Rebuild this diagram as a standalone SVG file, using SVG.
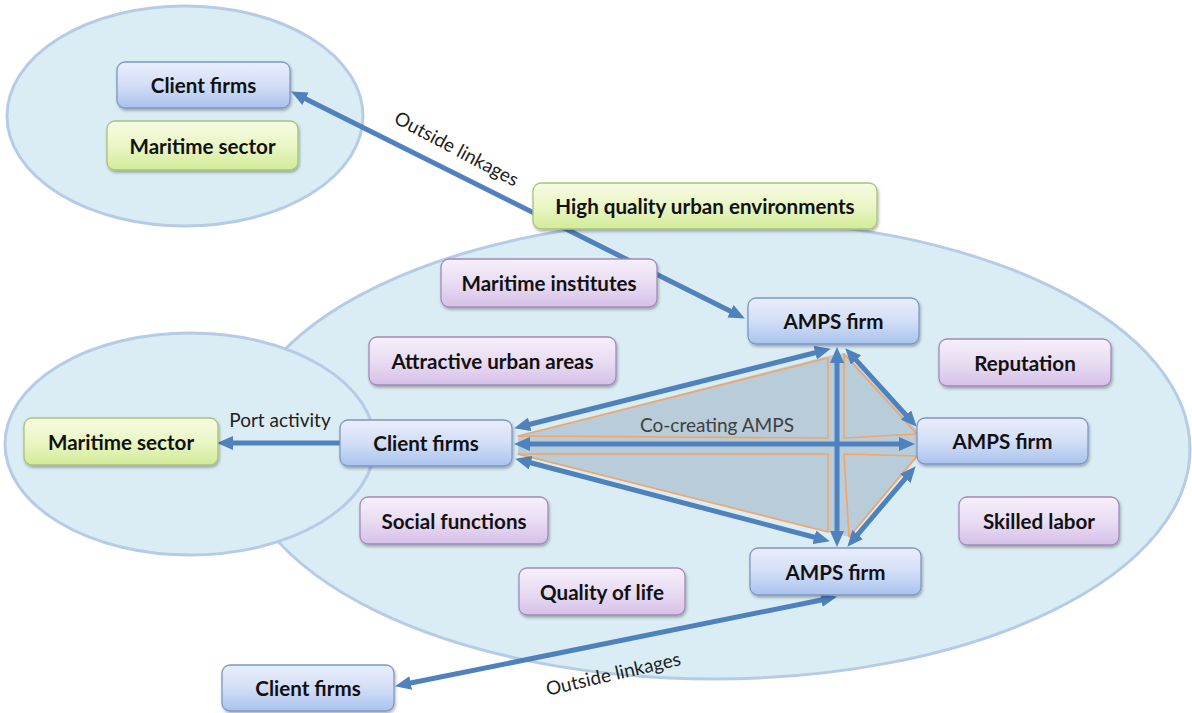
<svg xmlns="http://www.w3.org/2000/svg" width="1192" height="713" viewBox="0 0 1192 713">
  <defs>
    <style>
      .zone { fill: #dbedf4; stroke: #b5cbe6; stroke-width: 3; }
      .box { stroke-width: 1.3; filter: url(#shadow); }
      .blue { fill: url(#gBlue); stroke: #7e97c2; }
      .green { fill: url(#gGreen); stroke: #a8c27a; }
      .purple { fill: url(#gPurple); stroke: #9f8bb7; }
      .lbl { font-family: Lato, "Open Sans", "Liberation Sans", sans-serif; font-weight: bold; font-size: 20.6px; fill: #111; text-anchor: middle; dominant-baseline: central; }
      .note { font-family: Lato, "Open Sans", "Liberation Sans", sans-serif; font-size: 19px; fill: #1e1e1e; text-anchor: middle; dominant-baseline: central; }
      .link { fill: none; stroke: #4f81bd; stroke-width: 5; }
      .both { marker-start: url(#head); marker-end: url(#head); }
      .one { marker-end: url(#head); }
      .tri { fill: none; stroke: #f2a564; stroke-width: 1.6; stroke-linejoin: round; }
    </style>
    <linearGradient id="gBlue" x1="0" y1="0" x2="0" y2="1">
      <stop offset="0" stop-color="#e9eefb"/>
      <stop offset="0.5" stop-color="#d3def7"/>
      <stop offset="1" stop-color="#a9c3ee"/>
    </linearGradient>
    <linearGradient id="gGreen" x1="0" y1="0" x2="0" y2="1">
      <stop offset="0" stop-color="#f6fbe2"/>
      <stop offset="0.5" stop-color="#eaf6c6"/>
      <stop offset="1" stop-color="#d2eb98"/>
    </linearGradient>
    <linearGradient id="gPurple" x1="0" y1="0" x2="0" y2="1">
      <stop offset="0" stop-color="#f6f0fb"/>
      <stop offset="0.5" stop-color="#e9dcf3"/>
      <stop offset="1" stop-color="#d6c0e8"/>
    </linearGradient>
    <filter id="shadow" x="-10%" y="-20%" width="120%" height="150%">
      <feDropShadow dx="1" dy="2" stdDeviation="1.5" flood-color="#000" flood-opacity="0.3"/>
    </filter>
    <marker id="head" markerUnits="userSpaceOnUse" markerWidth="16" markerHeight="14" viewBox="0 0 16 14" refX="9" refY="7" orient="auto-start-reverse">
      <path d="M0,0 L16,7 L0,14 z" fill="#4f81bd"/>
    </marker>
  </defs>

  <!-- regions -->
  <g id="regions">
    <ellipse class="zone" cx="185" cy="116" rx="178" ry="110"/>
    <ellipse class="zone" cx="714" cy="449" rx="476" ry="230"/>
    <ellipse class="zone" cx="190" cy="444" rx="185" ry="111"/>
  </g>

  <!-- co-creation core -->
  <g id="core">
    <polygon points="518,436 828,356 845,353 917,430 917,458 850,537 828,532 518,455" fill="#b8ccda"/>
    <polygon class="tri" points="518,436 828,358 828,438"/>
    <polygon class="tri" points="518,454 828,454 828,532"/>
    <polygon class="tri" points="844,354 917,434 844,438"/>
    <polygon class="tri" points="844,454 917,456 849,537"/>
  </g>

  <!-- connectors -->
  <g id="connectors">
    <path class="link both" d="M521,426.5 L824,350.5"/>
    <path class="link both" d="M521,444 L908,444"/>
    <path class="link both" d="M522,460.5 L823,539.5"/>
    <path class="link both" d="M837,354 L837,540"/>
    <path class="link both" d="M850,353.4 L912,421.6"/>
    <path class="link both" d="M851.9,541.4 L911.1,471.6"/>
    <path class="link both" d="M297.4,94.7 L738.6,315.3"/>
    <path class="link both" d="M401.9,684.8 L830.1,598.2"/>
    <path class="link one" d="M340,443 L224,443"/>
    <text class="note" transform="translate(457,148) rotate(28)">Outside linkages</text>
    <text class="note" transform="translate(613,673) rotate(-13)">Outside linkages</text>
    <text class="note" x="280" y="419">Port activity</text>
    <text class="note" x="717" y="424" style="fill:#3f3f3f">Co-creating AMPS</text>
  </g>

  <!-- nodes -->
  <g id="client-firms-top">
    <rect class="box blue" x="117" y="62" width="173" height="46" rx="8"/>
    <text class="lbl" x="203.5" y="85">Client firms</text>
  </g>
  <g id="maritime-sector-top">
    <rect class="box green" x="107" y="121" width="191" height="49" rx="8"/>
    <text class="lbl" x="202.5" y="145.5">Maritime sector</text>
  </g>
  <g id="high-quality-urban">
    <rect class="box green" x="533" y="183" width="344" height="46" rx="8"/>
    <text class="lbl" x="705" y="206">High quality urban environments</text>
  </g>
  <g id="maritime-institutes">
    <rect class="box purple" x="441" y="259" width="216" height="48" rx="8"/>
    <text class="lbl" x="549" y="283">Maritime institutes</text>
  </g>
  <g id="amps-firm-top">
    <rect class="box blue" x="748" y="298" width="171" height="46" rx="8"/>
    <text class="lbl" x="833.5" y="321">AMPS firm</text>
  </g>
  <g id="attractive-urban-areas">
    <rect class="box purple" x="369" y="337" width="247" height="48" rx="8"/>
    <text class="lbl" x="492.5" y="361">Attractive urban areas</text>
  </g>
  <g id="reputation">
    <rect class="box purple" x="939" y="339" width="172" height="47" rx="8"/>
    <text class="lbl" x="1025" y="362.5">Reputation</text>
  </g>
  <g id="maritime-sector-left">
    <rect class="box green" x="24" y="418" width="194" height="47" rx="8"/>
    <text class="lbl" x="121" y="441.5">Maritime sector</text>
  </g>
  <g id="client-firms-mid">
    <rect class="box blue" x="340" y="420" width="172" height="46" rx="8"/>
    <text class="lbl" x="426" y="443">Client firms</text>
  </g>
  <g id="amps-firm-right">
    <rect class="box blue" x="917" y="418" width="171" height="46" rx="8"/>
    <text class="lbl" x="1002.5" y="441">AMPS firm</text>
  </g>
  <g id="social-functions">
    <rect class="box purple" x="360" y="497" width="188" height="47" rx="8"/>
    <text class="lbl" x="454" y="520.5">Social functions</text>
  </g>
  <g id="skilled-labor">
    <rect class="box purple" x="959" y="497" width="160" height="48" rx="8"/>
    <text class="lbl" x="1039" y="521">Skilled labor</text>
  </g>
  <g id="amps-firm-bottom">
    <rect class="box blue" x="750" y="548" width="171" height="47" rx="8"/>
    <text class="lbl" x="835.5" y="571.5">AMPS firm</text>
  </g>
  <g id="quality-of-life">
    <rect class="box purple" x="519" y="568" width="166" height="47" rx="8"/>
    <text class="lbl" x="602" y="591.5">Quality of life</text>
  </g>
  <g id="client-firms-bottom">
    <rect class="box blue" x="222" y="665" width="172" height="46" rx="8"/>
    <text class="lbl" x="308" y="688">Client firms</text>
  </g>
</svg>
